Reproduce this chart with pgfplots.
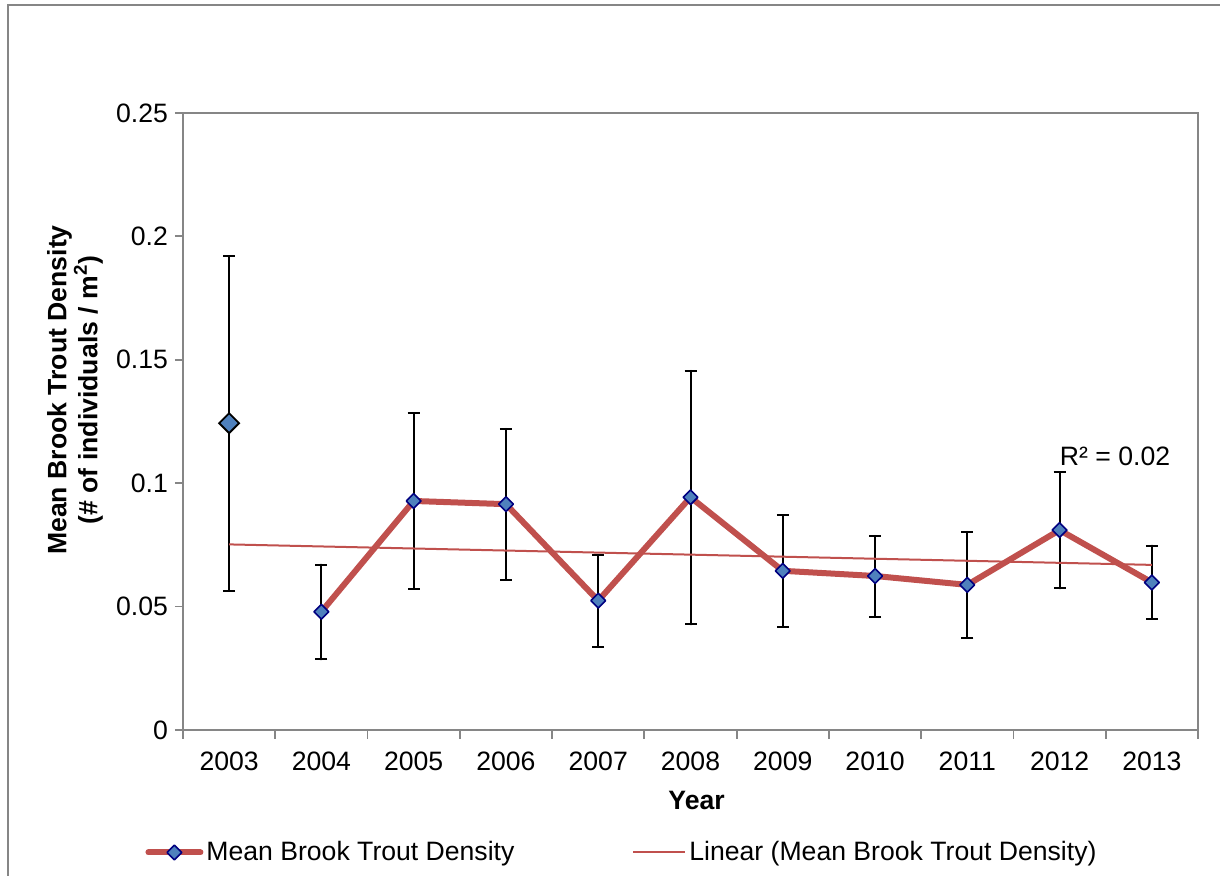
\documentclass[border=0pt]{standalone}
\usepackage{fontspec}
\setmainfont{Liberation Sans}
\usepackage{pgfplots}
\usepackage{pgfplotstable}
\pgfplotsset{compat=1.18}
\usetikzlibrary{calc}
\definecolor{exred}{RGB}{192,80,77}
\definecolor{exblue}{RGB}{79,129,189}
\definecolor{exnavy}{RGB}{0,0,128}
\definecolor{axgray}{RGB}{134,134,134}

\pgfplotstableread{
x y ep em
1 0.0479 0.0191 0.0193
2 0.0928 0.0355 0.0355
3 0.0915 0.0305 0.0307
4 0.0524 0.0184 0.0188
5 0.0943 0.0512 0.0515
6 0.0645 0.0226 0.0226
7 0.0624 0.0163 0.0165
8 0.0588 0.0215 0.0215
9 0.0810 0.0234 0.0236
10 0.0598 0.0149 0.0147
}\maindata

\pgfplotstableread{
x y ep em
0 0.1243 0.0679 0.0680
}\firstdata

\pgfplotstableread{
x y
0 0.0752
10 0.0669
}\trenddata

\begin{document}
\begin{tikzpicture}[font=\fontsize{13.3}{16}\selectfont]
\begin{axis}[
  scale only axis, width=507.5pt, height=308.5pt,
  xmin=-0.5, xmax=10.5, ymin=0, ymax=0.25,
  xtick={0,1,2,3,4,5,6,7,8,9,10},
  xticklabels={2003,2004,2005,2006,2007,2008,2009,2010,2011,2012,2013},
  minor xtick={-0.5,0.5,1.5,2.5,3.5,4.5,5.5,6.5,7.5,8.5,9.5,10.5},
  ytick={0,0.05,0.1,0.15,0.2,0.25},
  yticklabels={0,0.05,0.1,0.15,0.2,0.25},
  tick align=outside, tick pos=left,
  major tick length=4pt, minor tick length=4.5pt,
  major x tick style={draw=none},
  every tick/.style={axgray, line width=0.9pt},
  axis line style={draw=axgray, line width=0.9pt},
  tick label style={black},
  /pgf/number format/assume math mode=true,
  xticklabel style={yshift=-3.3pt},
  xlabel={Year},
  xlabel style={font=\bfseries\fontsize{13.3}{16}\selectfont, at={(axis description cs:0.506,-0.1135)}, anchor=center},
  ylabel={Mean Brook Trout Density\\(\# of individuals / m\textsuperscript{2})},
  ylabel style={font=\bfseries\fontsize{13.3}{14}\selectfont, align=center, at={(axis description cs:-0.1064,0.551)}, anchor=center},
  legend columns=2,
  legend style={draw=none, fill=none, at={(axis description cs:-0.0374,-0.1985)}, anchor=west, inner sep=0pt,
    nodes={inner sep=1pt},
    /tikz/every odd column/.append style={column sep=0.5pt},
    /tikz/every even column/.append style={column sep=58pt}},
  legend image code/.code={\draw[mark repeat=2,mark phase=2,#1] plot coordinates {(1.5pt,0pt)(14.5pt,0pt)(27.5pt,0pt)};},
]
\coordinate (ll) at (rel axis cs:0,0);
\coordinate (ur) at (rel axis cs:1,1);

\addplot[draw=none, mark=square*, mark size=3.5pt, forget plot,
  mark options={rotate=45, fill=exblue, draw=black, line width=0.9pt, solid},
  error bars/.cd, y dir=both, y explicit, error mark=|,
  error bar style={draw=black, line width=1pt, solid},
  error mark options={draw=black, line width=1pt, mark size=3pt}]
  table[x=x, y=y, y error plus=ep, y error minus=em] {\firstdata};

\addplot[exred, line width=3pt, line cap=round, line join=round,
  mark=square*, mark size=2.6pt,
  mark options={rotate=45, fill=exblue, draw=exnavy, line width=0.8pt, solid},
  error bars/.cd, y dir=both, y explicit, error mark=|,
  error bar style={draw=black, line width=1pt, solid},
  error mark options={draw=black, line width=1pt, mark size=3pt}]
  table[x=x, y=y, y error plus=ep, y error minus=em] {\maindata};
\addlegendentry{Mean Brook Trout Density}

\addplot[exred, line width=1pt] table[x=x, y=y] {\trenddata};
\addlegendentry{Linear (Mean Brook Trout Density)}

\node[anchor=west, inner sep=0pt] at (axis cs:9.0,0.111) {R² = 0.02};
\end{axis}
\pgfresetboundingbox
\path[use as bounding box] ($(ll)+(-91.5pt,-73pt)$) rectangle ($(ur)+(11pt,56.5pt)$);
\draw[axgray, line width=0.9pt] ($(ll)+(-87.5pt,-100pt)$) -- ($(ll)+(-87.5pt,362.5pt)$) -- ($(ur)+(40pt,54pt)$);
\end{tikzpicture}
\end{document}
